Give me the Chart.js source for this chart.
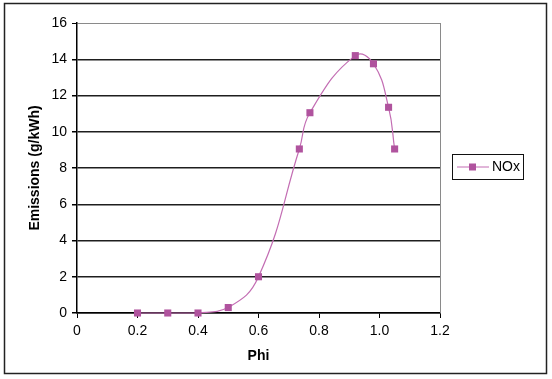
<!DOCTYPE html>
<html>
<head>
<meta charset="utf-8">
<script src="https://cdn.jsdelivr.net/npm/chart.js@4/dist/chart.umd.min.js"></script>
<style>
  body { margin: 0; background: #fff; }
  #wrap { width: 552px; height: 379px; }
</style>
</head>
<body>
<div id="wrap"><canvas id="myChart" width="552" height="379"></canvas></div>
<script>
// values
const seriesName = 'NOx';
const phi = [0.2, 0.3, 0.4, 0.5, 0.6, 0.735, 0.77, 0.92, 0.98, 1.03, 1.05];
const nox = [0, 0, 0, 0.3, 2.0, 9.05, 11.05, 14.2, 13.75, 11.35, 9.05];
const xTitle = 'Phi';
const yTitle = 'Emissions (g/kWh)';

const FONT = '"Liberation Sans", Arial, sans-serif';
const markerColor = '#B0539E';
const lineColor = '#C36DB3';

const points = phi.map(function (x, i) {
    return { x: x, y: nox[i] };
});

// outer frame, plot right border and the boxed legend
const framePlugin = {
    id: 'frame',
    beforeDraw(chart) {
        const c = chart.ctx;
        c.save();
        c.fillStyle = '#fff';
        c.fillRect(0, 0, chart.width, chart.height);
        c.restore();
    },
    beforeDatasetsDraw(chart) {
        const a = chart.chartArea;
        const c = chart.ctx;
        c.save();
        c.strokeStyle = '#8a8a8a';
        c.lineWidth = 1;
        c.beginPath();
        c.moveTo(Math.round(a.right) + 0.5, a.top);
        c.lineTo(Math.round(a.right) + 0.5, a.bottom);
        c.stroke();
        c.restore();
    },
    afterDraw(chart) {
        const c = chart.ctx;
        c.save();
        c.strokeStyle = '#222';
        c.lineWidth = 1.5;
        c.strokeRect(4.5, 3.5, 542, 370);

        // legend
        c.lineWidth = 1;
        c.strokeStyle = '#111';
        c.strokeRect(452.5, 154.5, 71, 25);
        c.strokeStyle = lineColor;
        c.beginPath();
        c.moveTo(457, 167);
        c.lineTo(489, 167);
        c.stroke();
        c.fillStyle = markerColor;
        c.fillRect(469, 163.5, 7, 7);
        c.fillStyle = '#000';
        c.font = '14px ' + FONT;
        c.textBaseline = 'middle';
        c.fillText(chart.data.datasets[0].label, 492, 167.5);
        c.restore();
    }
};

const ctx = document.getElementById('myChart').getContext('2d');
const myChart = new Chart(ctx, {
    type: 'scatter',
    data: {
        datasets: [{
            label: seriesName,
            data: points,
            showLine: true,
            tension: 0.45,
            borderColor: lineColor,
            borderWidth: 1.2,
            pointStyle: 'rect',
            pointRadius: 5,
            pointBackgroundColor: markerColor,
            pointBorderColor: markerColor,
            pointBorderWidth: 0,
            clip: false
        }]
    },
    options: {
        responsive: false,
        animation: false,
        events: [],
        layout: {
            padding: { left: 23, top: 23, right: 112, bottom: 10 }
        },
        plugins: {
            legend: { display: false },
            tooltip: { enabled: false }
        },
        scales: {
            x: {
                type: 'linear',
                min: 0,
                max: 1.2,
                afterFit: function (scale) { scale.height = 56; },
                ticks: {
                    stepSize: 0.2,
                    color: '#000',
                    padding: 5,
                    maxRotation: 0,
                    font: { family: FONT, size: 14 }
                },
                grid: {
                    drawOnChartArea: false,
                    drawTicks: true,
                    tickLength: 5,
                    tickColor: '#000'
                },
                border: { display: true, color: '#000', width: 1.5 },
                title: {
                    display: true,
                    text: xTitle,
                    color: '#000',
                    font: { family: FONT, size: 14, weight: 'bold' }
                }
            },
            y: {
                min: 0,
                max: 16,
                afterFit: function (scale) { scale.width = 54; },
                ticks: {
                    stepSize: 2,
                    color: '#000',
                    padding: 5,
                    font: { family: FONT, size: 14 }
                },
                grid: {
                    color: function (c) {
                        return c.tick && c.tick.value === 16 ? '#8a8a8a' : '#1e1e1e';
                    },
                    lineWidth: function (c) {
                        return c.tick && c.tick.value === 16 ? 1 : 1.5;
                    },
                    drawTicks: true,
                    tickLength: 5,
                    tickColor: '#000'
                },
                border: { display: true, color: '#000', width: 1.5 },
                title: {
                    display: true,
                    text: yTitle,
                    color: '#000',
                    font: { family: FONT, size: 14, weight: 'bold' }
                }
            }
        }
    },
    plugins: [framePlugin]
});
</script>
</body>
</html>
